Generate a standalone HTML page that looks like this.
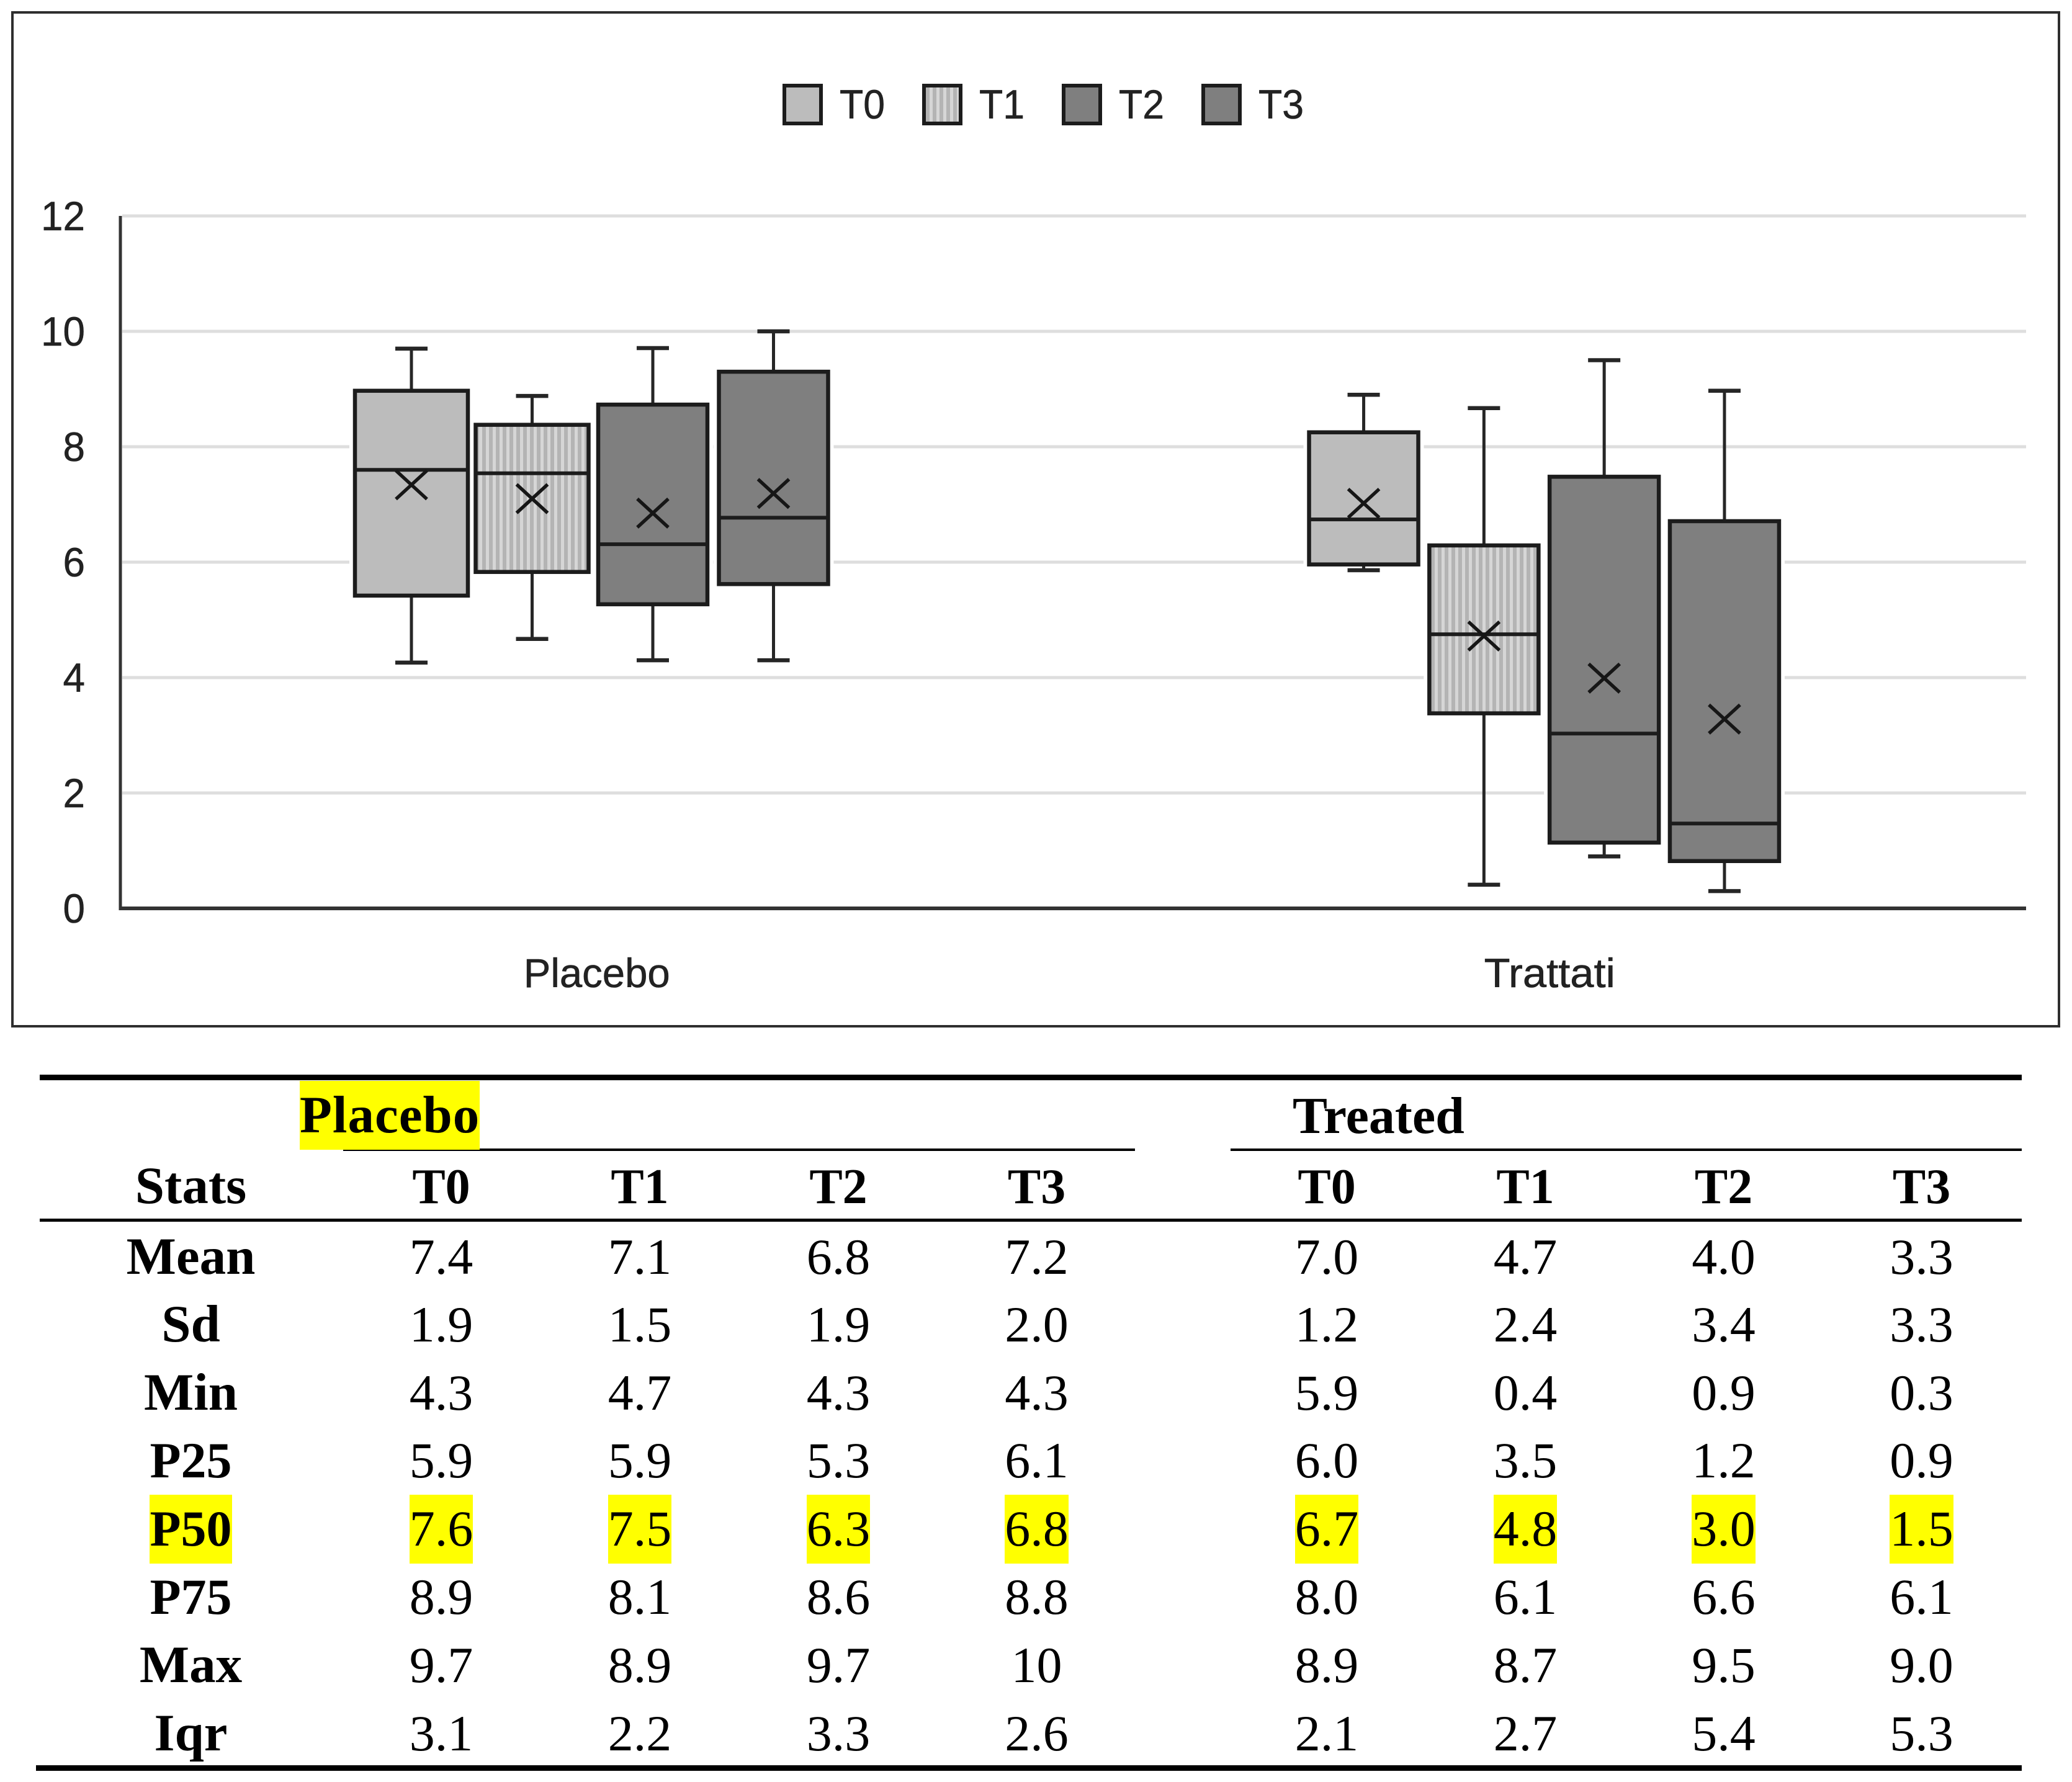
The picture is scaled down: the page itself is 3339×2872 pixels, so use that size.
<!DOCTYPE html>
<html lang="en">
<head>
<meta charset="utf-8">
<title>Box plot and statistics table</title>
<style>
  html, body { margin: 0; padding: 0; background: #fff; }
  body { position: relative; width: 3339px; height: 2872px; overflow: hidden; }
  #chart { position: absolute; left: 0; top: 0; width: 3339px; height: 1670px; display: block; }
  #chart text { font-family: "Liberation Sans", sans-serif; font-size: 66px; fill: #222; stroke: #222; stroke-width: 0.6px; }
  .rule { position: absolute; background: #000; }
  #stats { position: absolute; left: 64px; top: 1742px; width: 3192px; border-collapse: collapse; table-layout: fixed;
           font-family: "Liberation Serif", serif; color: #000; }
  #stats td, #stats th { padding: 5px 0 0 0; text-align: center; vertical-align: baseline; line-height: 100px; font-size: 82px; font-weight: normal; white-space: nowrap; }
  #stats th { font-weight: bold; font-size: 80px; }
  #stats th.lab { font-size: 85px; }
  #stats th.dig { font-size: 82px; }
  .hl { display: inline-block; background: #ffff00; line-height: 100px; padding: 5.5px 0; margin: -5.5px 0; }
  .group-l { text-align: left !important; }
  #placebo-head { font-size: 85px; letter-spacing: 1px; margin-left: -68px; }
  #treated-head { font-size: 84px; margin-left: 105px; display: inline-block; position: relative; top: 1px; }
</style>
</head>
<body>

<svg id="chart" xmlns="http://www.w3.org/2000/svg" viewBox="0 0 3339 1670" width="3339" height="1670">
  <defs>
    <pattern id="stripes" patternUnits="userSpaceOnUse" width="11" height="11">
      <rect width="11" height="11" fill="#b4b4b4"></rect>
      <rect x="2" width="5" height="11" fill="#d6d6d6"></rect>
    </pattern>
  </defs>
  <rect x="20" y="20" width="3298" height="1634" fill="#fff" stroke="#2e2e2e" stroke-width="4"></rect>
  <g id="grid-layer"></g>
  <g id="axis-layer"></g>
  <g id="mark-layer"></g>
  <g id="legend-layer"></g>
</svg>

<div class="rule" style="left:64px;top:1732px;width:3194px;height:9px"></div>
<div class="rule" style="left:553px;top:1851px;width:1276px;height:4px"></div>
<div class="rule" style="left:1983px;top:1851px;width:1275px;height:4px"></div>
<div class="rule" style="left:64px;top:1964px;width:3194px;height:5px"></div>
<div class="rule" style="left:58px;top:2845px;width:3200px;height:9px"></div>

<table id="stats">
  <colgroup>
    <col style="width:487px"><col style="width:320px"><col style="width:320px"><col style="width:320px"><col style="width:319px">
    <col style="width:148px"><col style="width:320px"><col style="width:320px"><col style="width:319px"><col style="width:319px">
  </colgroup>
  <tr style="height:114px">
    <th></th>
    <th colspan="4" class="group-l"><span id="placebo-head" class="hl">Placebo</span></th>
    <th></th>
    <th colspan="4" class="group-l"><span id="treated-head">Treated</span></th>
  </tr>
  <tr style="height:114px">
    <th class="lab">Stats</th>
    <th>T0</th><th>T1</th><th>T2</th><th>T3</th>
    <th></th>
    <th>T0</th><th>T1</th><th>T2</th><th>T3</th>
  </tr>
  <tr style="height:109px">
    <th class="lab">Mean</th><td>7.4</td><td>7.1</td><td>6.8</td><td>7.2</td><td></td><td>7.0</td><td>4.7</td><td>4.0</td><td>3.3</td>
  </tr>
  <tr style="height:110px">
    <th class="lab">Sd</th><td>1.9</td><td>1.5</td><td>1.9</td><td>2.0</td><td></td><td>1.2</td><td>2.4</td><td>3.4</td><td>3.3</td>
  </tr>
  <tr style="height:110px">
    <th class="lab">Min</th><td>4.3</td><td>4.7</td><td>4.3</td><td>4.3</td><td></td><td>5.9</td><td>0.4</td><td>0.9</td><td>0.3</td>
  </tr>
  <tr style="height:110px">
    <th class="dig">P25</th><td>5.9</td><td>5.9</td><td>5.3</td><td>6.1</td><td></td><td>6.0</td><td>3.5</td><td>1.2</td><td>0.9</td>
  </tr>
  <tr style="height:110px">
    <th class="dig"><span class="hl">P50</span></th><td><span class="hl">7.6</span></td><td><span class="hl">7.5</span></td><td><span class="hl">6.3</span></td><td><span class="hl">6.8</span></td><td></td><td><span class="hl">6.7</span></td><td><span class="hl">4.8</span></td><td><span class="hl">3.0</span></td><td><span class="hl">1.5</span></td>
  </tr>
  <tr style="height:109px">
    <th class="dig">P75</th><td>8.9</td><td>8.1</td><td>8.6</td><td>8.8</td><td></td><td>8.0</td><td>6.1</td><td>6.6</td><td>6.1</td>
  </tr>
  <tr style="height:110px">
    <th class="lab">Max</th><td>9.7</td><td>8.9</td><td>9.7</td><td>10</td><td></td><td>8.9</td><td>8.7</td><td>9.5</td><td>9.0</td>
  </tr>
  <tr style="height:108px">
    <th class="lab">Iqr</th><td>3.1</td><td>2.2</td><td>3.3</td><td>2.6</td><td></td><td>2.1</td><td>2.7</td><td>5.4</td><td>5.3</td>
  </tr>
</table>

<script>
// Chart data. Outer index = category, inner index = series.
const categories = ['Placebo', 'Trattati'];
const seriesNames = ['T0', 'T1', 'T2', 'T3'];
const yTicks = [0, 2, 4, 6, 8, 10, 12];
const whiskerLow = [[4.26, 4.67, 4.30, 4.30], [5.86, 0.41, 0.90, 0.30]];
const boxLow = [[5.42, 5.83, 5.27, 5.62], [5.96, 3.38, 1.14, 0.82]];
const medians = [[7.60, 7.54, 6.31, 6.77], [6.74, 4.75, 3.03, 1.47]];
const boxHigh = [[8.97, 8.38, 8.73, 9.30], [8.25, 6.29, 7.48, 6.71]];
const whiskerHigh = [[9.70, 8.88, 9.71, 10.0], [8.90, 8.67, 9.50, 8.97]];
const means = [[7.34, 7.10, 6.85, 7.19], [7.02, 4.72, 3.99, 3.28]];

const SVG_NS = 'http://www.w3.org/2000/svg';
const PLOT = { left: 194, right: 3265, bottom: 1464, unit: 93 };
const seriesFills = ['#bcbcbc', 'url(#stripes)', '#7f7f7f', '#7f7f7f'];
const INK = '#1c1c1c';

function y(v) { return PLOT.bottom - v * PLOT.unit; }
function bandCenter(c) { return PLOT.left + (c + 0.5) * (PLOT.right - PLOT.left) / categories.length; }
function x(c, s) { return bandCenter(c) + (s - 1.5) * (c === 0 ? 194.5 : 193.8) - 7 - 2 * c; }
function boxWidth(c, s) { return (c === 0 && s < 2) ? 182 : 176; }

function make(tag, parent, attrs) {
  const el = document.createElementNS(SVG_NS, tag);
  for (const k in attrs) el.setAttribute(k, attrs[k]);
  parent.appendChild(el);
  return el;
}

const gridLayer = document.getElementById('grid-layer');
const axisLayer = document.getElementById('axis-layer');
const markLayer = document.getElementById('mark-layer');
const legendLayer = document.getElementById('legend-layer');

yTicks.forEach(function (t) {
  if (t > 0) {
    const g = make('line', gridLayer, { x1: PLOT.left + 3, x2: PLOT.right, y1: y(t), y2: y(t), stroke: '#dedede', 'stroke-width': 5 });
    
    
  }
  const label = make('text', axisLayer, { x: 137, y: y(t) + 23, 'text-anchor': 'end' });
  label.textContent = String(t);
  label.setAttribute('textLength', String(t).length * 35.5);
  label.setAttribute('lengthAdjust', 'spacingAndGlyphs');
  
  
});

const yAxis = make('line', axisLayer, { x1: PLOT.left, x2: PLOT.left, y1: y(12), y2: PLOT.bottom + 3, stroke: '#333', 'stroke-width': 5 });


const xAxis = make('line', axisLayer, { x1: PLOT.left, x2: PLOT.right, y1: PLOT.bottom, y2: PLOT.bottom, stroke: '#333', 'stroke-width': 6 });



categories.forEach(function (name, c) {
  const label = make('text', axisLayer, { x: bandCenter(c), y: 1591, 'text-anchor': 'middle' });
  label.textContent = name;
  label.setAttribute('textLength', name.length * (c === 0 ? 33.7 : 26.4));
  label.setAttribute('lengthAdjust', 'spacingAndGlyphs');
  
  

  seriesNames.forEach(function (series, s) {
    const cx = x(c, s);
    const w = boxWidth(c, s);
    const base = name.toLowerCase() + '-' + series.toLowerCase();

    const group = make('g', markLayer, {});
    
    

    const halo = make('rect', group, { x: cx - w / 2, y: y(boxHigh[c][s]), width: w, height: y(boxLow[c][s]) - y(boxHigh[c][s]), fill: 'none', stroke: '#fff', 'stroke-width': 18 });
    
    

    const stem = make('line', group, { x1: cx, x2: cx, y1: y(whiskerHigh[c][s]), y2: y(whiskerLow[c][s]), stroke: '#262626', 'stroke-width': 5 });
    
    

    const capTop = make('line', group, { x1: cx - 26, x2: cx + 26, y1: y(whiskerHigh[c][s]), y2: y(whiskerHigh[c][s]), stroke: '#262626', 'stroke-width': 6.5 });
    
    

    const capLow = make('line', group, { x1: cx - 26, x2: cx + 26, y1: y(whiskerLow[c][s]), y2: y(whiskerLow[c][s]), stroke: '#262626', 'stroke-width': 6.5 });
    
    

    const rect = make('rect', group, { x: cx - w / 2, y: y(boxHigh[c][s]), width: w, height: y(boxLow[c][s]) - y(boxHigh[c][s]), fill: seriesFills[s], stroke: INK, 'stroke-width': 6.5 });
    
    

    const med = make('line', group, { x1: cx - w / 2, x2: cx + w / 2, y1: y(medians[c][s]), y2: y(medians[c][s]), stroke: INK, 'stroke-width': 6 });
    
    

    const my = y(means[c][s]);
    const mean = make('path', group, { d: 'M' + (cx - 25) + ' ' + (my - 23) + 'L' + (cx + 25) + ' ' + (my + 23) + 'M' + (cx + 25) + ' ' + (my - 23) + 'L' + (cx - 25) + ' ' + (my + 23), stroke: '#161616', 'stroke-width': 5.5, fill: 'none' });
    
    
  });
});

seriesNames.forEach(function (series, s) {
  const lx = 1261 + s * 225;
  const swatch = make('rect', legendLayer, { x: lx + 3, y: 138, width: 59, height: 61, fill: seriesFills[s], stroke: '#1c1c1c', 'stroke-width': 6 });
  
  
  const text = make('text', legendLayer, { x: lx + 92, y: 191 });
  text.textContent = series;
  text.setAttribute('textLength', 73);
  text.setAttribute('lengthAdjust', 'spacingAndGlyphs');
  
  
});
</script>
</body>
</html>
